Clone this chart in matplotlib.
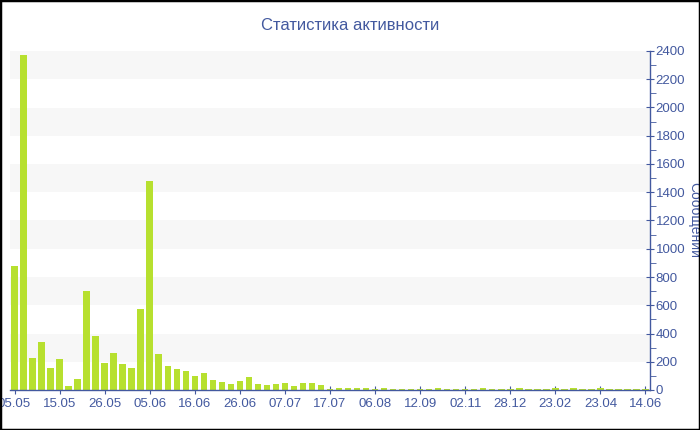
import matplotlib
matplotlib.use('Agg')
import matplotlib.pyplot as plt
from matplotlib.patches import Rectangle
from matplotlib.ticker import MultipleLocator

# Messages per period
values = [877, 2375, 224, 338, 158, 219, 28, 78, 698, 384,
          193, 260, 184, 156, 571, 1480, 253, 168, 149, 137,
          101, 118, 71, 57, 45, 66, 92, 42, 36, 42,
          50, 26, 47, 47, 33, 10, 16, 11, 11, 11,
          5, 14, 9, 7, 7, 9, 9, 14, 9, 9,
          8, 10, 12, 9, 7, 10, 12, 8, 6, 10,
          12, 9, 11, 8, 10, 12, 7, 9, 6, 5, 4]

# Tick labels, one every 5 bars
tick_labels = ['05.05', '15.05', '26.05', '05.06', '16.06', '26.06', '07.07',
               '17.07', '06.08', '12.09', '02.11', '28.12', '23.02', '23.04',
               '14.06']
tick_step = 5

title = 'Статистика активности'
y_title = 'Сообщений'

blue = '#43599f'
bar_color = '#b7e02f'
band_color = '#f7f7f7'

plt.rcParams['font.family'] = ['Liberation Sans', 'DejaVu Sans']

fig = plt.figure(figsize=(7, 4.3), dpi=100)
ax = fig.add_axes([10 / 700, 40 / 430, 640 / 700, 339 / 430])

# alternating grid bands
for lo in range(200, 2400, 400):
    ax.axhspan(lo, lo + 200, color=band_color, zorder=0, lw=0)

x = list(range(len(values)))
ax.bar(x, values, width=0.72, color=bar_color, zorder=2)

ax.set_xlim(-0.5, len(values) - 0.5)
ax.set_ylim(0, 2400)

ax.set_xticks([i * tick_step for i in range(len(tick_labels))])
ax.set_xticklabels(tick_labels)

ax.yaxis.tick_right()
ax.yaxis.set_major_locator(MultipleLocator(200))
ax.yaxis.set_minor_locator(MultipleLocator(100))
ax.tick_params(axis='both', colors=blue, labelsize=9.5, direction='inout')
ax.tick_params(axis='y', which='major', length=6, pad=1)
ax.tick_params(axis='y', which='minor', length=4, colors=blue)
ax.tick_params(axis='x', length=6, pad=3)

for s in ['top', 'left']:
    ax.spines[s].set_visible(False)
for s in ['right', 'bottom']:
    ax.spines[s].set_color(blue)
    ax.spines[s].set_linewidth(1)

ax.set_ylabel(y_title, color=blue, fontsize=10, rotation=270, va='center')
ax.yaxis.set_label_position('right')
ax.yaxis.set_label_coords(1.08, 0.5)

fig.text(350 / 700, 1 - 25 / 430, title, color=blue, fontsize=12,
         ha='center', va='center')

# black frame around the picture
fig.patches.append(Rectangle((0, 0), 1, 1, transform=fig.transFigure,
                             fill=False, edgecolor='black', lw=2.5))

fig.savefig('out.png', dpi=100)
